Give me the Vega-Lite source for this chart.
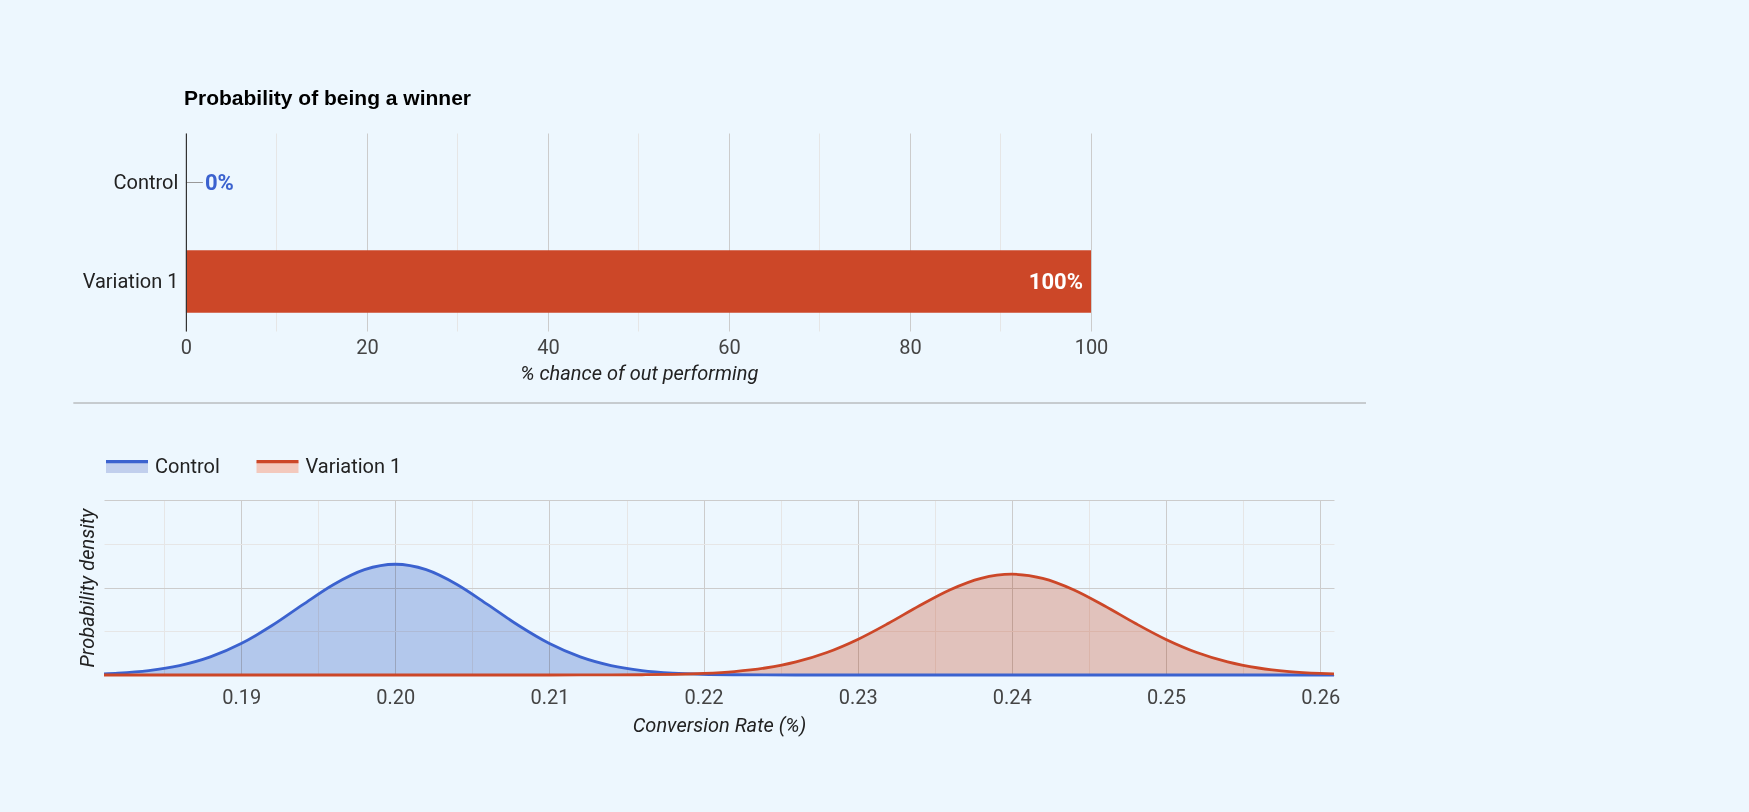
{
  "$schema": "https://vega.github.io/schema/vega-lite/v6.json",
  "background": "#edf7fe",
  "padding": {"left": 72, "top": 87, "right": 400, "bottom": 90},
  "spacing": 18,
  "resolve": {
    "scale": {"fill": "independent", "stroke": "independent"},
    "legend": {"fill": "independent", "stroke": "independent"}
  },
  "config": {
    "view": {"stroke": null},
    "font": "Roboto",
    "axis": {
      "labelFont": "Roboto",
      "titleFont": "Roboto",
      "labelFontSize": 20,
      "titleFontSize": 20,
      "labelColor": "#444444",
      "titleColor": "#222222",
      "titleFontWeight": "normal",
      "titleFontStyle": "italic",
      "ticks": false,
      "domain": false,
      "labelFlush": false,
      "labelOverlap": false
    },
    "legend": {
      "orient": "top",
      "direction": "horizontal",
      "symbolType": "M-1,-0.27H1V0.27H-1Z",
      "symbolSize": 1764,
      "symbolStrokeWidth": 3.3,
      "symbolDash": [42, 400],
      "labelFont": "Roboto",
      "labelFontSize": 20,
      "labelColor": "#222222",
      "labelOffset": 5,
      "columnPadding": 29.5,
      "offset": 20.5,
      "padding": 0
    }
  },
  "datasets": {
    "curves": [
      {"rate": 0.1811, "series": "Control", "density": 0.70},
      {"rate": 0.182, "series": "Control", "density": 1.07},
      {"rate": 0.184, "series": "Control", "density": 2.52},
      {"rate": 0.186, "series": "Control", "density": 5.36},
      {"rate": 0.188, "series": "Control", "density": 10.32},
      {"rate": 0.190, "series": "Control", "density": 17.96},
      {"rate": 0.192, "series": "Control", "density": 28.26},
      {"rate": 0.194, "series": "Control", "density": 40.22},
      {"rate": 0.196, "series": "Control", "density": 51.74},
      {"rate": 0.198, "series": "Control", "density": 60.19},
      {"rate": 0.200, "series": "Control", "density": 63.3},
      {"rate": 0.202, "series": "Control", "density": 60.19},
      {"rate": 0.204, "series": "Control", "density": 51.74},
      {"rate": 0.206, "series": "Control", "density": 40.22},
      {"rate": 0.208, "series": "Control", "density": 28.26},
      {"rate": 0.210, "series": "Control", "density": 17.96},
      {"rate": 0.212, "series": "Control", "density": 10.32},
      {"rate": 0.214, "series": "Control", "density": 5.36},
      {"rate": 0.216, "series": "Control", "density": 2.52},
      {"rate": 0.218, "series": "Control", "density": 1.07},
      {"rate": 0.220, "series": "Control", "density": 0.41},
      {"rate": 0.222, "series": "Control", "density": 0.14},
      {"rate": 0.224, "series": "Control", "density": 0.05},
      {"rate": 0.226, "series": "Control", "density": 0.01},
      {"rate": 0.228, "series": "Control", "density": 0},
      {"rate": 0.240, "series": "Control", "density": 0},
      {"rate": 0.250, "series": "Control", "density": 0},
      {"rate": 0.2609, "series": "Control", "density": 0},
      {"rate": 0.1811, "series": "Variation 1", "density": 0},
      {"rate": 0.190, "series": "Variation 1", "density": 0},
      {"rate": 0.200, "series": "Variation 1", "density": 0},
      {"rate": 0.210, "series": "Variation 1", "density": 0},
      {"rate": 0.212, "series": "Variation 1", "density": 0.02},
      {"rate": 0.214, "series": "Variation 1", "density": 0.05},
      {"rate": 0.216, "series": "Variation 1", "density": 0.14},
      {"rate": 0.218, "series": "Variation 1", "density": 0.37},
      {"rate": 0.220, "series": "Variation 1", "density": 0.89},
      {"rate": 0.222, "series": "Variation 1", "density": 1.96},
      {"rate": 0.224, "series": "Variation 1", "density": 4.00},
      {"rate": 0.226, "series": "Variation 1", "density": 7.47},
      {"rate": 0.228, "series": "Variation 1", "density": 12.84},
      {"rate": 0.230, "series": "Variation 1", "density": 20.31},
      {"rate": 0.232, "series": "Variation 1", "density": 29.56},
      {"rate": 0.234, "series": "Variation 1", "density": 39.58},
      {"rate": 0.236, "series": "Variation 1", "density": 48.75},
      {"rate": 0.238, "series": "Variation 1", "density": 55.25},
      {"rate": 0.240, "series": "Variation 1", "density": 57.6},
      {"rate": 0.242, "series": "Variation 1", "density": 55.25},
      {"rate": 0.244, "series": "Variation 1", "density": 48.75},
      {"rate": 0.246, "series": "Variation 1", "density": 39.58},
      {"rate": 0.248, "series": "Variation 1", "density": 29.56},
      {"rate": 0.250, "series": "Variation 1", "density": 20.31},
      {"rate": 0.252, "series": "Variation 1", "density": 12.84},
      {"rate": 0.254, "series": "Variation 1", "density": 7.47},
      {"rate": 0.256, "series": "Variation 1", "density": 4.00},
      {"rate": 0.258, "series": "Variation 1", "density": 1.96},
      {"rate": 0.260, "series": "Variation 1", "density": 0.89},
      {"rate": 0.2609, "series": "Variation 1", "density": 0.61}
    ]
  },
  "vconcat": [
    {
      "width": 987,
      "height": 198,
      "title": {
        "text": "Probability of being a winner",
        "anchor": "start",
        "frame": "group",
        "dx": 80,
        "font": "Liberation Sans",
        "fontSize": 21,
        "fontWeight": "bold",
        "color": "#000000",
        "offset": 24.5
      },
      "data": {"values": [
        {"variant": "Control", "pct": 0, "label": "0%"},
        {"variant": "Variation 1", "pct": 100, "label": "100%"}
      ]},
      "encoding": {
        "y": {
          "field": "variant", "type": "nominal", "sort": ["Control", "Variation 1"],
          "scale": {"paddingInner": 0, "paddingOuter": 0},
          "axis": {"title": null, "offset": -81.9, "domain": true, "domainColor": "#333333", "domainWidth": 1.2, "ticks": false, "labelPadding": 8, "labelColor": "#222222", "labelFontSize": 20, "grid": false, "zindex": 1}
        },
        "x": {
          "field": "pct", "type": "quantitative",
          "scale": {"domain": [-9.05, 100], "nice": false, "zero": false},
          "axis": {
            "title": "% chance of out performing",
            "values": [0, 10, 20, 30, 40, 50, 60, 70, 80, 90, 100],
            "labelExpr": "datum.value % 20 === 0 ? datum.label : ''",
            "grid": true,
            "gridColor": {"condition": {"test": "datum.value % 20 === 0", "value": "#cccccc"}, "value": "#e6e6e6"},
            "labelPadding": 6.5,
            "titlePadding": 5.6,
            "titleX": 534.8,
            "titleAlign": "center"
          }
        }
      },
      "layer": [
        {"mark": {"type": "bar", "color": "#cc4728", "height": {"band": 0.63}}},
        {
          "transform": [{"filter": "datum.variant === 'Control'"}],
          "mark": {"type": "rule", "color": "#999999", "strokeWidth": 1, "x2Offset": 17},
          "encoding": {"x2": {"field": "pct"}}
        },
        {
          "transform": [{"filter": "datum.variant === 'Control'"}],
          "mark": {"type": "text", "align": "left", "baseline": "middle", "dx": 19, "font": "Roboto", "fontSize": 22, "fontWeight": "bold", "color": "#3b62cf"},
          "encoding": {"text": {"field": "label"}}
        },
        {
          "transform": [{"filter": "datum.variant === 'Variation 1'"}],
          "mark": {"type": "text", "align": "right", "baseline": "middle", "dx": -8, "font": "Roboto", "fontSize": 22, "fontWeight": "bold", "color": "#ffffff"},
          "encoding": {"text": {"field": "label"}}
        }
      ]
    },
    {
      "width": 1262,
      "height": 22.5,
      "data": {"values": [{"divider": "line"}]},
      "mark": {"type": "rule", "color": "#a0a0a0", "strokeWidth": 1, "clip": false},
      "encoding": {
        "x": {"datum": -0.0243, "type": "quantitative", "scale": {"domain": [0, 1], "nice": false, "zero": false}, "axis": null},
        "x2": {"datum": 1},
        "y": {"datum": 1, "type": "quantitative", "scale": {"domain": [0, 1], "nice": false}, "axis": null}
      }
    },
    {
      "width": 1230,
      "height": 175,
      "data": {"name": "curves"},
      "encoding": {
        "x": {
          "field": "rate", "type": "quantitative",
          "scale": {"domain": [0.1811, 0.2609], "nice": false, "zero": false},
          "axis": {
            "title": "Conversion Rate (%)",
            "values": [0.185, 0.19, 0.195, 0.2, 0.205, 0.21, 0.215, 0.22, 0.225, 0.23, 0.235, 0.24, 0.245, 0.25, 0.255, 0.26],
            "labelExpr": "round(datum.value * 1000) % 10 === 0 ? format(datum.value, '.2f') : ''",
            "grid": true,
            "gridColor": {"condition": {"test": "round(datum.value * 1000) % 10 === 0", "value": "#cccccc"}, "value": "#e6e6e6"},
            "labelPadding": 12.5,
            "titlePadding": 8
          }
        },
        "y": {
          "field": "density", "type": "quantitative", "stack": null,
          "scale": {"domain": [0, 100], "nice": false},
          "axis": {
            "title": "Probability density",
            "values": [0, 25, 50, 75, 100],
            "labels": false,
            "grid": true,
            "gridColor": {"condition": {"test": "datum.value % 50 === 0", "value": "#cccccc"}, "value": "#e6e6e6"},
            "titlePadding": 7
          }
        }
      },
      "layer": [
        {
          "mark": {"type": "area", "interpolate": "monotone", "fillOpacity": 1, "blend": "multiply"},
          "encoding": {
            "fill": {
              "field": "series", "type": "nominal",
              "scale": {"domain": ["Control", "Variation 1"], "range": ["#c1cfed", "#f3c9bd"]},
              "legend": {"title": null}
            }
          }
        },
        {
          "mark": {"type": "line", "interpolate": "monotone", "strokeWidth": 2.8},
          "encoding": {
            "stroke": {
              "field": "series", "type": "nominal",
              "scale": {"domain": ["Control", "Variation 1"], "range": ["#3b62cf", "#cc4728"]},
              "legend": {"title": null}
            }
          }
        }
      ]
    }
  ]
}
